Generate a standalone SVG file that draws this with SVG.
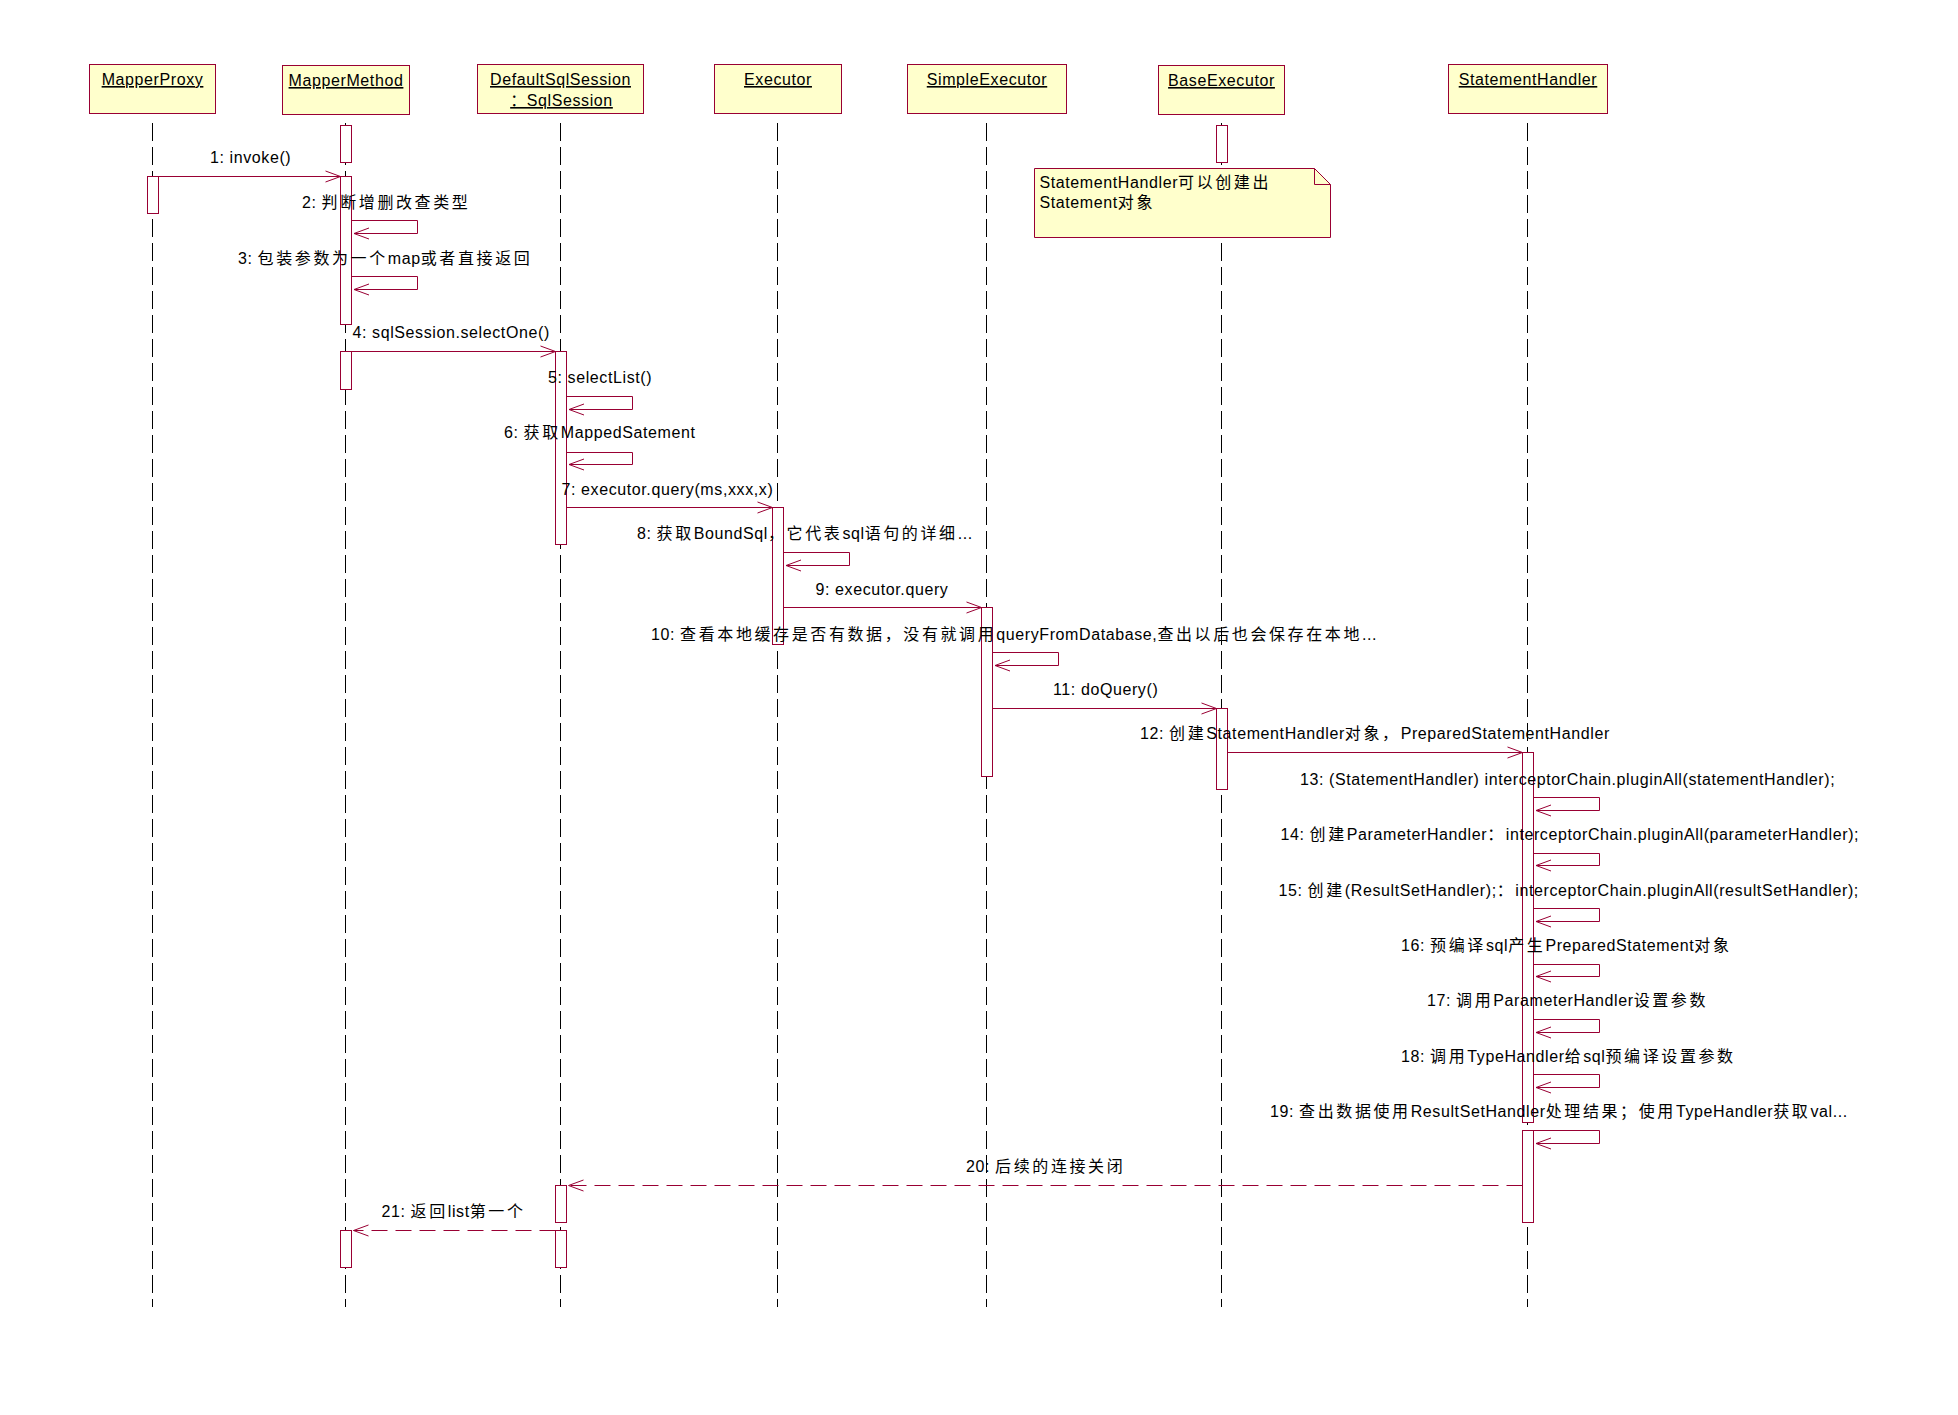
<svg xmlns="http://www.w3.org/2000/svg" width="1958" height="1415" viewBox="0 0 1958 1415">
<style>
text{font-family:"Liberation Sans","Noto Sans CJK SC",sans-serif;font-size:16px;fill:#000;letter-spacing:0.6px}
.c{letter-spacing:2.6px}
.obj{fill:#FFFFCC;stroke:#990033;stroke-width:1}
.name{text-anchor:middle;text-decoration:underline}
.life{stroke:#000;stroke-width:1;stroke-dasharray:18 6;fill:none}
.act{fill:#fff;stroke:#990033;stroke-width:1}
.msg{stroke:#990033;stroke-width:1;fill:none;marker-end:url(#arr)}
.ret{stroke:#990033;stroke-width:1;fill:none;stroke-dasharray:16 8;marker-end:url(#arr)}
.note{fill:#FFFFCC;stroke:#990033;stroke-width:1}
</style>
<defs>
<marker id="arr" markerUnits="userSpaceOnUse" markerWidth="20" markerHeight="16" viewBox="-17 -8 20 16" refX="0" refY="0" orient="auto">
<path d="M -15 -5.5 L 0 0 L -15 5.5" fill="none" stroke="#990033" stroke-width="1" stroke-dasharray="none"/>
</marker>
</defs>
<rect width="1958" height="1415" fill="#fff"/>

<g id="MapperProxy">
<rect class="obj" x="89.5" y="64.5" width="126" height="49"/>
<text class="name" x="152.5" y="85">MapperProxy</text>
<line class="life" x1="152.5" y1="123" x2="152.5" y2="1307"/>
<rect class="act" x="147.5" y="176.5" width="11" height="37"/>
</g>

<g id="MapperMethod">
<rect class="obj" x="282.5" y="65.5" width="127" height="49"/>
<text class="name" x="346" y="86">MapperMethod</text>
<line class="life" x1="345.5" y1="123" x2="345.5" y2="1307"/>
<rect class="act" x="340.5" y="125.5" width="11" height="37"/>
<rect class="act" x="340.5" y="176.5" width="11" height="148"/>
<rect class="act" x="340.5" y="351.5" width="11" height="38"/>
<rect class="act" x="340.5" y="1230.5" width="11" height="37"/>
</g>

<g id="DefaultSqlSession">
<rect class="obj" x="477.5" y="64.5" width="166" height="49"/>
<text class="name" x="560.5" y="85">DefaultSqlSession</text>
<text class="name" x="561.5" y="106">：SqlSession</text>
<line class="life" x1="560.5" y1="123" x2="560.5" y2="1307"/>
<rect class="act" x="555.5" y="351.5" width="11" height="193"/>
<rect class="act" x="555.5" y="1185.5" width="11" height="37"/>
<rect class="act" x="555.5" y="1230.5" width="11" height="37"/>
</g>

<g id="Executor">
<rect class="obj" x="714.5" y="64.5" width="127" height="49"/>
<text class="name" x="778" y="85">Executor</text>
<line class="life" x1="777.5" y1="123" x2="777.5" y2="1307"/>
<rect class="act" x="772.5" y="507.5" width="11" height="137"/>
</g>

<g id="SimpleExecutor">
<rect class="obj" x="907.5" y="64.5" width="159" height="49"/>
<text class="name" x="987" y="85">SimpleExecutor</text>
<line class="life" x1="986.5" y1="123" x2="986.5" y2="1307"/>
<rect class="act" x="981.5" y="607.5" width="11" height="169"/>
</g>

<g id="BaseExecutor">
<rect class="obj" x="1158.5" y="65.5" width="126" height="49"/>
<text class="name" x="1221.5" y="86">BaseExecutor</text>
<line class="life" x1="1221.5" y1="123" x2="1221.5" y2="1307"/>
<rect class="act" x="1216.5" y="125.5" width="11" height="37"/>
<rect class="act" x="1216.5" y="708.5" width="11" height="81"/>
</g>

<g id="StatementHandler">
<rect class="obj" x="1448.5" y="64.5" width="159" height="49"/>
<text class="name" x="1528" y="85">StatementHandler</text>
<line class="life" x1="1527.5" y1="123" x2="1527.5" y2="1307"/>
<rect class="act" x="1522.5" y="752.5" width="11" height="370"/>
<rect class="act" x="1522.5" y="1130.5" width="11" height="92"/>
</g>

<g id="note">
<polygon class="note" points="1034.5,168.5 1314.5,168.5 1330.5,184.5 1330.5,237.5 1034.5,237.5"/>
<path d="M1314.5 168.5 V184.5 H1330.5" fill="none" stroke="#990033" stroke-width="1"/>
<text x="1039.5" y="188">StatementHandler<tspan class="c">可以创建出</tspan></text>
<text x="1039.5" y="208">Statement<tspan class="c">对象</tspan></text>
</g>

<g id="connectors">
<path class="msg" d="M152.5 176.5 H340.5"/>
<text x="210" y="163">1: invoke()</text>
<path class="msg" d="M351.5 220.5 H417.5 V233.5 H354"/>
<text x="302" y="208">2: <tspan class="c">判断增删改查类型</tspan></text>
<path class="msg" d="M351.5 276.5 H417.5 V289.5 H354"/>
<text x="238" y="264">3: <tspan class="c">包装参数为一个</tspan>map<tspan class="c">或者直接返回</tspan></text>
<path class="msg" d="M351.5 351.5 H555.5"/>
<text x="352.5" y="338">4: sqlSession.selectOne()</text>
<path class="msg" d="M566.5 396.5 H632.5 V409.5 H569"/>
<text x="548" y="383">5: selectList()</text>
<path class="msg" d="M566.5 452.5 H632.5 V464.5 H569"/>
<text x="504" y="438">6: <tspan class="c">获取</tspan>MappedSatement</text>
<path class="msg" d="M566.5 507.5 H772.5"/>
<text x="561.5" y="495">7: executor.query(ms,xxx,x)</text>
<path class="msg" d="M783.5 552.5 H849.5 V565.5 H786"/>
<text x="637" y="539">8: <tspan class="c">获取</tspan>BoundSql<tspan class="c">，它代表</tspan>sql<tspan class="c">语句的详细</tspan>...</text>
<path class="msg" d="M783.5 607.5 H981.5"/>
<text x="815.5" y="595">9: executor.query</text>
<path class="msg" d="M992.5 652.5 H1058.5 V665.5 H995"/>
<text x="651" y="640">10: <tspan class="c">查看本地缓存是否有数据，没有就调用</tspan>queryFromDatabase,<tspan class="c">查出以后也会保存在本地</tspan>...</text>
<path class="msg" d="M992.5 708.5 H1216.5"/>
<text x="1053" y="695">11: doQuery()</text>
<path class="msg" d="M1227.5 752.5 H1522.5"/>
<text x="1140" y="739">12: <tspan class="c">创建</tspan>StatementHandler<tspan class="c">对象，</tspan>PreparedStatementHandler</text>
<path class="msg" d="M1533.5 797.5 H1599.5 V810.5 H1536"/>
<text x="1300" y="785">13: (StatementHandler) interceptorChain.pluginAll(statementHandler);</text>
<path class="msg" d="M1533.5 853.5 H1599.5 V865.5 H1536"/>
<text x="1280.5" y="840">14: <tspan class="c">创建</tspan>ParameterHandler<tspan class="c">：</tspan>interceptorChain.pluginAll(parameterHandler);</text>
<path class="msg" d="M1533.5 908.5 H1599.5 V921.5 H1536"/>
<text x="1278.5" y="896">15: <tspan class="c">创建</tspan>(ResultSetHandler);<tspan class="c">：</tspan>interceptorChain.pluginAll(resultSetHandler);</text>
<path class="msg" d="M1533.5 964.5 H1599.5 V976.5 H1536"/>
<text x="1401" y="951">16: <tspan class="c">预编译</tspan>sql<tspan class="c">产生</tspan>PreparedStatement<tspan class="c">对象</tspan></text>
<path class="msg" d="M1533.5 1019.5 H1599.5 V1032.5 H1536"/>
<text x="1427" y="1006">17: <tspan class="c">调用</tspan>ParameterHandler<tspan class="c">设置参数</tspan></text>
<path class="msg" d="M1533.5 1074.5 H1599.5 V1087.5 H1536"/>
<text x="1401" y="1062">18: <tspan class="c">调用</tspan>TypeHandler<tspan class="c">给</tspan>sql<tspan class="c">预编译设置参数</tspan></text>
<path class="msg" d="M1533.5 1130.5 H1599.5 V1143.5 H1536"/>
<text x="1270" y="1117">19: <tspan class="c">查出数据使用</tspan>ResultSetHandler<tspan class="c">处理结果；使用</tspan>TypeHandler<tspan class="c">获取</tspan>val...</text>
<path class="ret" d="M1522.5 1185.5 H568.5"/>
<text x="966" y="1172">20: <tspan class="c">后续的连接关闭</tspan></text>
<path class="ret" d="M555.5 1230.5 H353.5"/>
<text x="381.5" y="1217">21: <tspan class="c">返回</tspan>list<tspan class="c">第一个</tspan></text>
</g>
</svg>
